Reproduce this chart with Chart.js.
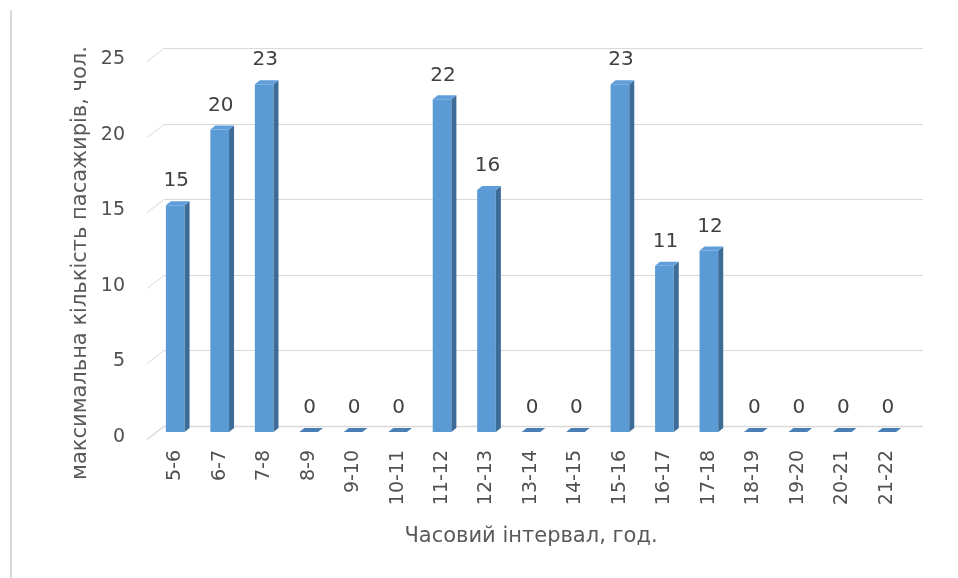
<!DOCTYPE html>
<html>
<head>
<meta charset="utf-8">
<script src="https://cdn.jsdelivr.net/npm/chart.js@4/dist/chart.umd.min.js"></script>
<style>
  html, body { margin: 0; padding: 0; background: #ffffff; }
  #wrap { width: 958px; height: 578px; }
</style>
</head>
<body>
<div id="wrap"><canvas id="c" width="958" height="578"></canvas></div>
<script>
// ---- data ----
const categories = ["5-6", "6-7", "7-8", "8-9", "9-10", "10-11", "11-12", "12-13", "13-14", "14-15", "15-16", "16-17", "17-18", "18-19", "19-20", "20-21", "21-22"];
const passengers = [15, 20, 23, 0, 0, 0, 22, 16, 0, 0, 23, 11, 12, 0, 0, 0, 0];
const yTitle = "максимальна кількість пасажирів, чол.";
const xTitle = "Часовий інтервал, год.";

const FONT = "'DejaVu Sans', 'Liberation Sans', sans-serif";

const bars3d = {
  id: 'bars3d',
  beforeDatasetsDraw(chart) {
    const ctx = chart.ctx, y = chart.scales.y, a = chart.chartArea;
    ctx.save();
    ctx.strokeStyle = '#d9d9d9';
    ctx.lineWidth = 2;
    ctx.beginPath(); ctx.moveTo(11, 10); ctx.lineTo(11, 578); ctx.stroke();
    y.ticks.forEach(t => {
      const py = Math.round(y.getPixelForValue(t.value)) + 0.5;
      ctx.lineWidth = t.value === 0 ? 1.5 : 1;
      ctx.beginPath();
      ctx.moveTo(a.left - 6, py + 7);
      ctx.lineTo(a.left + 11, py - 6);
      ctx.lineTo(a.right + 14, py - 6);
      ctx.stroke();
    });
    ctx.restore();
  },
  afterDatasetsDraw(chart) {
    const ctx = chart.ctx;
    const meta = chart.getDatasetMeta(0);
    const vals = chart.data.datasets[0].data;
    ctx.save();
    meta.data.forEach((bar, i) => {
      const p = bar.getProps(['x', 'y', 'base', 'width'], true);
      const l = p.x - p.width / 2, r = p.x + p.width / 2, d = 5, h = 4;
      ctx.fillStyle = '#3d6c99';
      ctx.beginPath();
      ctx.moveTo(r, p.y); ctx.lineTo(r + d, p.y - h); ctx.lineTo(r + d, p.base - h); ctx.lineTo(r, p.base);
      ctx.closePath(); ctx.fill();
      ctx.fillStyle = vals[i] === 0 ? '#4a7fb5' : '#5f9edb';
      ctx.beginPath();
      ctx.moveTo(l, p.y); ctx.lineTo(l + d, p.y - h); ctx.lineTo(r + d, p.y - h); ctx.lineTo(r, p.y);
      ctx.closePath(); ctx.fill();
      ctx.fillStyle = '#404040';
      ctx.font = "20px " + FONT;
      ctx.textAlign = 'center';
      ctx.textBaseline = 'middle';
      ctx.fillText(String(vals[i]), p.x + 1, p.y - 24);
    });
    ctx.restore();
  }
};

new Chart(document.getElementById('c'), {
  type: 'bar',
  data: {
    labels: categories,
    datasets: [{
      data: passengers,
      backgroundColor: '#5b9bd5',
      borderWidth: 0,
      barPercentage: 0.42,
      categoryPercentage: 1.0
    }]
  },
  options: {
    responsive: false,
    animation: false,
    devicePixelRatio: 1,
    layout: { padding: { left: 60, right: 49, top: 54, bottom: 29 } },
    plugins: { legend: { display: false }, tooltip: { enabled: false } },
    scales: {
      x: {
        grid: { display: false, drawTicks: false },
        border: { display: false },
        ticks: { minRotation: 90, maxRotation: 90, autoSkip: false, padding: 18, color: '#505050', font: { family: FONT, size: 19 } },
        title: { display: true, text: xTitle, color: '#595959', font: { family: FONT, size: 21 }, padding: { top: 0, bottom: 0 } },
        afterFit(s) { s.height = 117; }
      },
      y: {
        min: 0, max: 25,
        grid: { display: false, drawTicks: false },
        border: { display: false },
        ticks: { stepSize: 5, padding: 28, labelOffset: 5, color: '#505050', font: { family: FONT, size: 19 } },
        title: { display: true, text: yTitle + "      ", color: '#595959', font: { family: FONT, size: 21 }, padding: { top: 8, bottom: 0 } },
        afterFit(s) { s.width = 93; }
      }
    }
  },
  plugins: [bars3d]
});
</script>
</body>
</html>
